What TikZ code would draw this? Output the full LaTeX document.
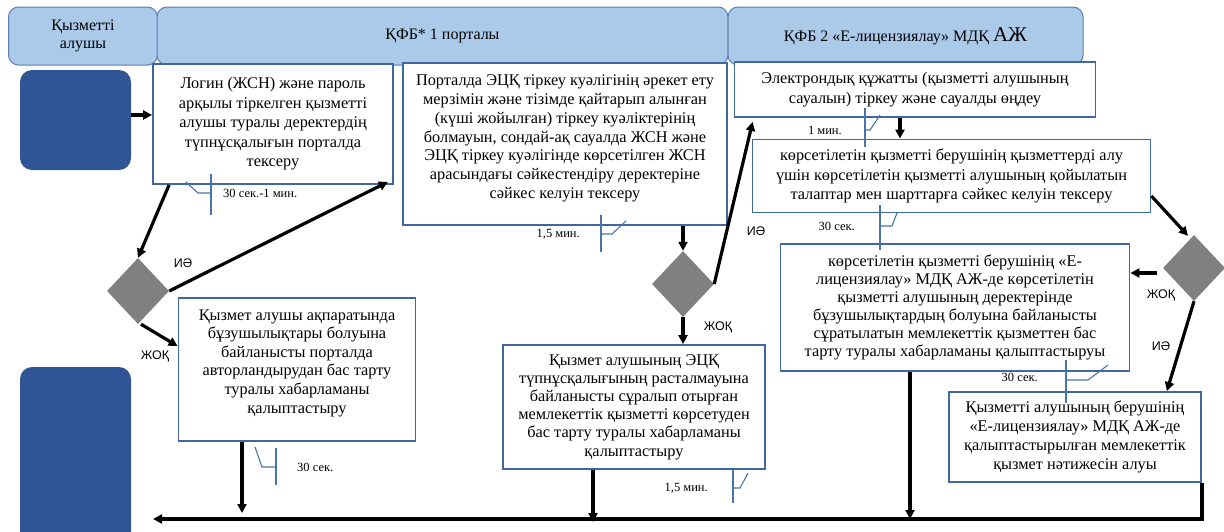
\documentclass[tikz,border=0pt]{standalone}
\usepackage{fontspec}
\setmainfont{Liberation Serif}
\newfontfamily\lblfont{Liberation Sans}
\usetikzlibrary{positioning,arrows.meta,shapes.geometric}

\definecolor{headfill}{HTML}{ABC9E9}
\definecolor{headline}{HTML}{5A7EB0}
\definecolor{actorfill}{HTML}{2F5597}
\definecolor{boxline}{HTML}{41679E}
\definecolor{tickline}{HTML}{4A74A8}

\begin{document}
\begin{tikzpicture}[x=1pt,y=-1pt,>={Triangle[length=9pt,width=9pt]},node distance=5pt]
\tikzstyle{head}=[draw=headline,fill=headfill,rounded corners=10pt,line width=1pt,
  align=center,minimum height=58pt,font=\fontsize{16}{18}\selectfont]
\tikzstyle{actor}=[fill=actorfill,rounded corners=12pt,minimum width=111pt]
\tikzstyle{proc}=[draw=boxline,line width=1.8pt,fill=white,align=center,inner sep=0pt,
  font=\fontsize{16.3}{19.5}\selectfont]
\tikzstyle{gate}=[diamond,fill=gray,minimum width=62pt,minimum height=66pt,inner sep=0pt]
\tikzstyle{flow}=[line width=3.2pt,->]
\tikzstyle{yn}=[font=\lblfont\fontsize{12.5}{13}\selectfont,inner sep=0pt]
\tikzstyle{tm}=[font=\fontsize{12.5}{13}\selectfont,inner sep=0pt]
\tikzstyle{tick}=[draw=tickline,line width=1.1pt]

\useasboundingbox (0,0) rectangle (1224,531);

% lanes
\node[head,minimum width=149pt] (hd1) at (83,36) {Қызметті\\алушы};
\node[head,minimum width=571pt] (hd2) at (442.5,36) {ҚФБ* 1 порталы};
\node[head,minimum width=355pt] (hd3) at (905.5,36)
  {ҚФБ 2 «Е-лицензиялау» МДҚ {\fontsize{21}{21}\selectfont АЖ}};

% service receiver
\node[actor,minimum height=100pt] (usr1) at (75.5,120) {};
\node[actor,minimum height=180pt] (usr2) at (75.5,457) {};

% steps
\node[proc,minimum width=240pt,minimum height=120pt] (b1) at (273,124)
  {Логин (ЖСН) және пароль\\арқылы тіркелген қызметті\\алушы туралы деректердің\\
   түпнұсқалығын порталда\\тексеру};
\node[proc,minimum width=324pt,minimum height=162pt,font=\fontsize{16.3}{18.8}\selectfont] (b2) at (565,144)
  {Порталда ЭЦҚ тіркеу куәлігінің әрекет ету\\мерзімін және тізімде қайтарып алынған\\
   (күші жойылған) тіркеу куәліктерінің\\болмауын, сондай-ақ сауалда ЖСН және\\
   ЭЦҚ тіркеу куәлігінде көрсетілген ЖСН\\арасындағы сәйкестендіру деректеріне\\
   сәйкес келуін тексеру\\[-4pt]};
\node[proc,minimum width=361pt,minimum height=55pt] (b3) at (915,89.5)
  {Электрондық құжатты (қызметті алушының\\сауалын) тіркеу және сауалды өңдеу};
\node[proc,minimum width=398pt,minimum height=73pt] (b4) at (951.5,176)
  {көрсетілетін қызметті берушінің қызметтерді алу\\үшін көрсетілетін қызметті алушының қойылатын\\
   талаптар мен шарттарға сәйкес келуін тексеру};
\node[proc,minimum width=349pt,minimum height=127pt,font=\fontsize{16.3}{18}\selectfont] (b5) at (955,307.5)
  {көрсетілетін қызметті берушінің «Е-\\лицензиялау» МДҚ АЖ-де көрсетілетін\\
   қызметті алушының деректерінде\\бұзушылықтардың болуына байланысты\\
   сұратылатын мемлекеттік қызметтен бас\\тарту туралы хабарламаны қалыптастыруы};
\node[proc,minimum width=252pt,minimum height=90pt,font=\fontsize{16.3}{19}\selectfont] (b6) at (1075,437)
  {Қызметті алушының берушінің\\«Е-лицензиялау» МДҚ АЖ-де\\
   қалыптастырылған мемлекеттік\\қызмет нәтижесін алуы};
\node[proc,minimum width=237pt,minimum height=143pt,font=\fontsize{16.3}{18.6}\selectfont] (b7) at (297,369.5)
  {Қызмет алушы ақпаратында\\бұзушылықтары болуына\\байланысты порталда\\
   авторландырудан бас тарту\\туралы хабарламаны\\қалыптастыру\\[-2pt]};
\node[proc,minimum width=262pt,minimum height=124pt,font=\fontsize{16.3}{18.2}\selectfont] (b8) at (634,407)
  {Қызмет алушының ЭЦҚ\\түпнұсқалығының расталмауына\\байланысты сұралып отырған\\
   мемлекеттік қызметті көрсетуден\\бас тарту туралы хабарламаны\\қалыптастыру};

% decisions
\node[gate] (d1) at (138,291) {};
\node[gate] (d2) at (683,284) {};
\node[gate] (d3) at (1194,268) {};

% bottom return line
\coordinate (endL) at (153,519);

% connectors
\draw[flow] ([yshift=5pt]usr1.east) -- ([yshift=5pt]usr1.east -| b1.west);
\draw[flow] ([xshift=17pt]b1.south west) -- (d1.north);
\draw[flow] (d1.east) -- ([xshift=-6pt,yshift=3pt]b1.south east);
\draw[flow] ([xshift=3pt]d1.south) -- ([yshift=-49pt]b7.north west);
\draw[flow,shorten >=6pt] ([xshift=-55pt]b7.south) -- ([xshift=-55pt]b7.south |- endL);
\draw[flow] (b2.south -| d2) -- (d2.north);
\draw[flow] (d2.south) -- (d2.south |- b8.north);
\draw[flow] (d2.east) -- ([xshift=19pt,yshift=-4pt]b3.south west);
\draw[flow,shorten >=-3pt] ([xshift=-41pt]b8.south) -- ([xshift=-41pt]b8.south |- endL);
\draw[flow] ([xshift=-15pt]b3.south) -- ([xshift=-15pt]b3.south |- b4.north);
\draw[flow] ([yshift=-20pt]b4.east) -- ([xshift=-6pt,yshift=-1pt]d3.north);
\draw[flow] ([xshift=-6pt,yshift=-5pt]d3.west) -- ([yshift=-5pt]d3.west -| b5.east);
\draw[flow] (d3.south) -- ([xshift=-35pt]b6.north east);
\draw[flow] ([xshift=-45pt]b5.south) -- ([xshift=-45pt]b5.south |- endL);
\draw[flow] (b6.south east) -- (b6.south east |- endL) -- (endL);

% answers
\node[yn] (y1) at (183,263) {ИӘ};
\node[yn] (n1) at (155,356) {ЖОҚ};
\node[yn] (y2) at (756,231) {ИӘ};
\node[yn] (n2) at (718,327) {ЖОҚ};
\node[yn] (n3) at (1161,295) {ЖОҚ};
\node[yn] (y3) at (1161,346) {ИӘ};

% durations
\coordinate (k1) at (211,193);
\draw[tick] (k1) ++(0,-19) -- ++(0,41);
\draw[tick] (k1) -- ++(-13,0) -- ++(-12,-11);
\node[tm,right=12pt of k1] (t1) {30 сек.-1 мин.};

\coordinate (k2) at (601,234);
\draw[tick] (k2) ++(0,-19) -- ++(0,37);
\draw[tick] (k2) -- ++(11,0) -- ++(14,-13);
\node[tm,left=21pt of k2] (t2) {1,5 мин.};

\coordinate (k3) at (865,130);
\draw[tick] (k3) ++(0,-22) -- ++(0,39);
\draw[tick] (k3) -- ++(5,0) -- ++(10,-15);
\node[tm,left=23pt of k3] (t3) {1 мин.};

\coordinate (k4) at (880,226);
\draw[tick] (k4) ++(0,-21) -- ++(0,45);
\draw[tick] (k4) -- ++(12,0) -- ++(5,-13);
\node[tm,left=25pt of k4] (t4) {30 сек.};

\coordinate (k5) at (1066,380);
\draw[tick] (k5) ++(0,-20) -- ++(0,43);
\draw[tick] (k5) -- ++(22,0) -- ++(20,-15);
\node[tm,left=28pt of k5,yshift=3pt] (t5) {30 сек.};

\coordinate (k6) at (276,467);
\draw[tick] (k6) ++(0,-19) -- ++(0,37);
\draw[tick] (k6) -- ++(-14,0) -- ++(-7,-20);
\node[tm,right=21pt of k6] (t6) {30 сек.};

\coordinate (k7) at (733,488);
\draw[tick] (k7) ++(0,-18) -- ++(0,33);
\draw[tick] (k7) -- ++(7,0) -- ++(8,-15);
\node[tm,left=25pt of k7] (t7) {1,5 мин.};
\end{tikzpicture}
\end{document}
